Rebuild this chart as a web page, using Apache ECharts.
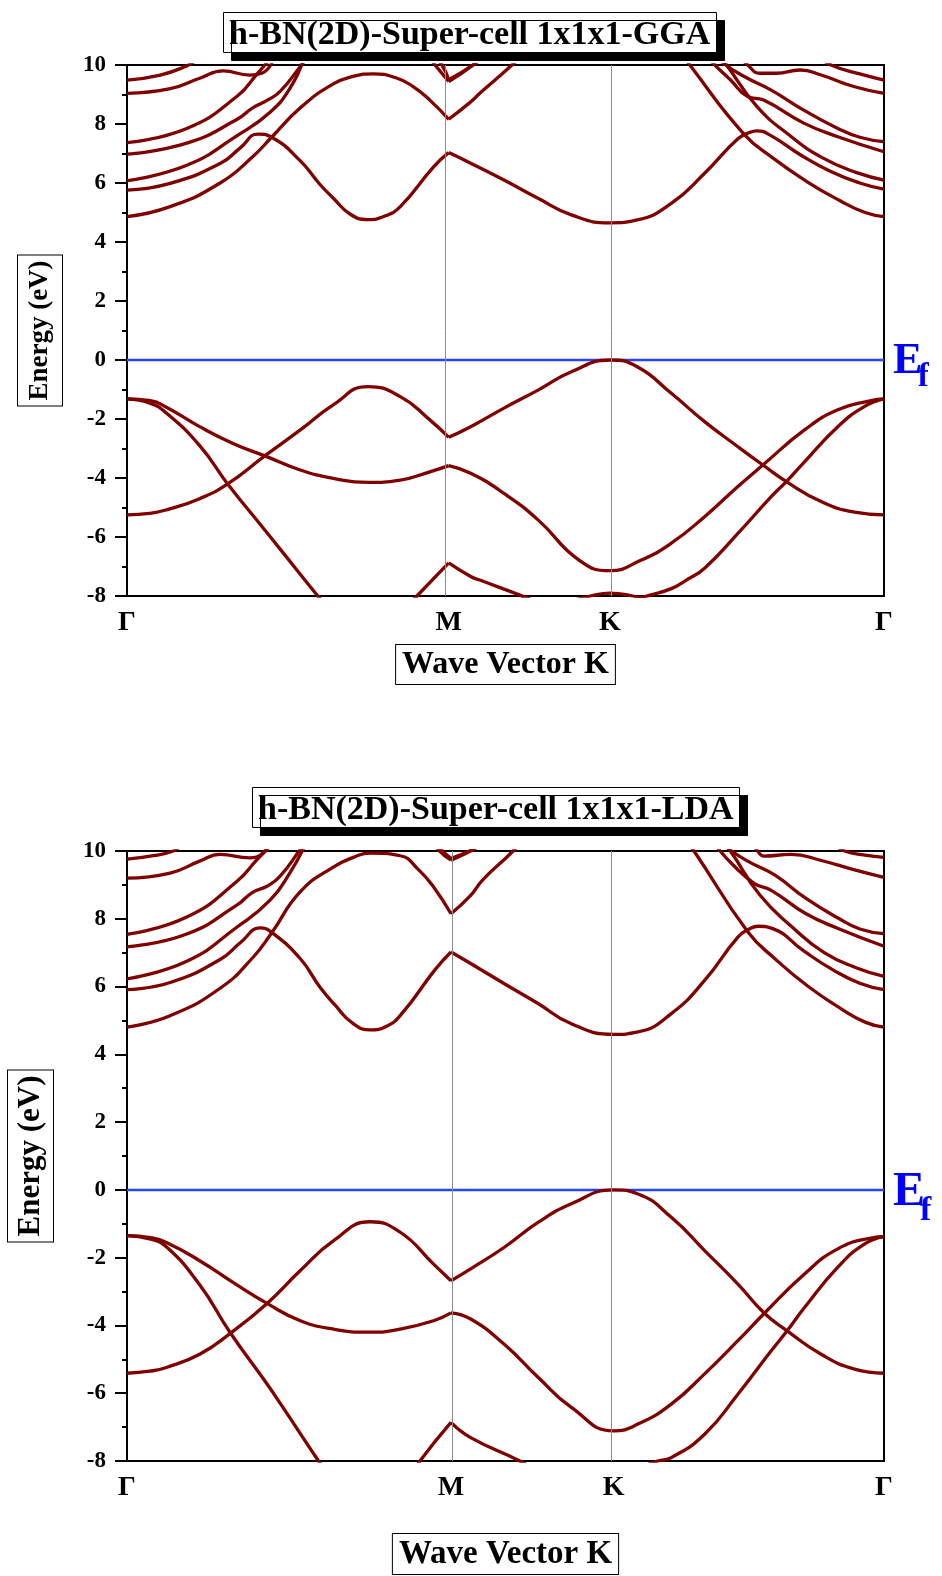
<!DOCTYPE html>
<html>
<head>
<meta charset="utf-8">
<script src="https://cdn.jsdelivr.net/npm/echarts@6.0.0/dist/echarts.min.js"></script>
<style>
html,body{margin:0;padding:0;background:#fff;}
#chart{width:942px;height:1576px;}
</style>
</head>
<body>
<div id="chart"></div>
<script>
// ---------- tick labels / symmetry points ----------
const kLabels = ['Γ', 'M', 'K', 'Γ'];
const kPosGGA = [0, 0.425, 0.638, 1];
const kPosLDA = [0, 0.428, 0.643, 1];
const titles = ['h-BN(2D)-Super-cell 1x1x1-GGA', 'h-BN(2D)-Super-cell 1x1x1-LDA'];
const yName = 'Energy (eV)';
const xName = 'Wave Vector K';
const fermiLevel = 0;

// ---------- GGA bands [k, E(eV)] ----------
const gga_v1_gm = [[0,-5.25],[0.030,-5.2],[0.052,-5.08],[0.096,-4.7],[0.133,-4.2],[0.182,-3.25],[0.229,-2.37],[0.272,-1.53],[0.318,-0.9],[0.361,-1.24],[0.400,-2.03],[0.425,-2.62]];
const gga_v1_mkg = [[0.425,-2.62],[0.454,-2.26],[0.498,-1.63],[0.543,-1.02],[0.587,-0.4],[0.638,0],[0.674,-0.23],[0.719,-1.13],[0.763,-2.09],[0.807,-2.94],[0.840,-3.56],[0.871,-4.12],[0.917,-4.8],[0.961,-5.16],[1,-5.25]];
const gga_v2_gm = [[0,-1.32],[0.031,-1.38],[0.052,-1.6],[0.096,-2.26],[0.140,-2.83],[0.182,-3.25],[0.229,-3.73],[0.272,-4.01],[0.318,-4.15],[0.361,-4.07],[0.400,-3.79],[0.425,-3.58]];
const gga_v2_mkg = [[0.425,-3.58],[0.454,-3.84],[0.498,-4.52],[0.543,-5.42],[0.598,-6.8],[0.638,-7.14],[0.678,-6.8],[0.719,-6.21],[0.763,-5.31],[0.807,-4.29],[0.840,-3.56],[0.895,-2.37],[0.939,-1.69],[0.983,-1.38],[1,-1.32]];
const gga_v3_gm = [[0,-1.32],[0.031,-1.47],[0.052,-1.8],[0.096,-2.9],[0.133,-4.2],[0.182,-5.76],[0.206,-6.53],[0.252,-8.0],[0.275,-8.7]];
const gga_v4_gm = [[0.36,-8.6],[0.383,-8.0],[0.425,-6.88]];
const gga_v4_mk = [[0.425,-6.88],[0.454,-7.34],[0.466,-7.46],[0.519,-7.97],[0.55,-8.3]];
const gga_v5_k = [[0.59,-8.15],[0.612,-8.0],[0.638,-7.9],[0.668,-8.0],[0.69,-8.15]];
const gga_v6_kg = [[0.66,-8.2],[0.691,-7.97],[0.719,-7.75],[0.739,-7.46],[0.763,-7.06],[0.807,-5.88],[0.851,-4.63],[0.871,-4.12],[0.895,-3.45],[0.939,-2.26],[0.974,-1.58],[1,-1.32]];

const gga_c1_gm = [[0,4.86],[0.057,5.2],[0.123,6.0],[0.166,6.89],[0.191,7.55],[0.229,8.55],[0.272,9.35],[0.300,9.62],[0.325,9.70],[0.356,9.56],[0.378,9.27],[0.400,8.81],[0.425,8.16]];
const gga_c1_mk = [[0.425,8.16],[0.454,8.75],[0.466,9.04],[0.506,9.94],[0.52,10.3]];
const gga_c1_kg = [[0.73,10.5],[0.745,9.95],[0.815,7.66],[0.853,6.85],[0.898,6.05],[0.942,5.4],[0.975,5.0],[1,4.86]];
const gga_c2_gm = [[0,5.76],[0.057,5.99],[0.123,6.66],[0.150,7.2],[0.173,7.66],[0.191,7.55],[0.229,6.75],[0.255,5.95],[0.272,5.5],[0.295,4.94],[0.318,4.76],[0.340,4.87],[0.361,5.2],[0.405,6.55],[0.425,7.03]];
const gga_c2_mkg = [[0.425,7.03],[0.454,6.67],[0.498,6.1],[0.543,5.48],[0.587,4.92],[0.638,4.65],[0.674,4.75],[0.719,5.31],[0.763,6.33],[0.807,7.5],[0.823,7.72],[0.832,7.77],[0.849,7.63],[0.890,6.95],[0.929,6.4],[0.968,6.0],[1,5.79]];
const gga_c3_gm = [[0,6.08],[0.079,6.6],[0.145,7.6],[0.189,8.4],[0.215,9.2],[0.232,10.1]];
const gga_c4_gm = [[0,6.98],[0.079,7.35],[0.145,8.15],[0.166,8.55],[0.185,8.8],[0.202,9.1],[0.229,9.95],[0.236,10.2]];
const gga_c5_gm = [[0,7.37],[0.079,7.85],[0.145,8.93],[0.172,9.7],[0.182,10.0],[0.19,10.25]];
const gga_c6_gm = [[0,9.04],[0.057,9.2],[0.096,9.55],[0.127,9.8],[0.162,9.66],[0.178,9.72],[0.192,10.1]];
const gga_c7_gm = [[0,9.49],[0.044,9.66],[0.079,9.97],[0.09,10.15]];
const gga_c8_gm = [[0.395,10.4],[0.407,10.0],[0.425,9.44]];
const gga_c8_mk = [[0.425,9.44],[0.457,10.0],[0.467,10.3]];
const gga_c9_gm = [[0.405,10.3],[0.416,10.0],[0.425,9.5]];
const gga_c9_mk = [[0.425,9.5],[0.46,10.05],[0.47,10.3]];
const gga_c3_kg = [[0.78,10.4],[0.792,10.0],[0.832,8.6],[0.876,7.6],[0.919,6.85],[0.964,6.35],[1,6.1]];
const gga_c4_kg = [[0.765,10.4],[0.773,10.1],[0.797,9.5],[0.820,8.93],[0.841,8.81],[0.894,8.03],[0.939,7.57],[1,7.06]];
const gga_c5_kg = [[0.778,10.4],[0.786,10.1],[0.816,9.6],[0.851,9.15],[0.894,8.47],[0.939,7.85],[0.968,7.55],[1,7.4]];
const gga_c6_kg = [[0.81,10.3],[0.82,10.0],[0.836,9.72],[0.858,9.72],[0.889,9.83],[0.917,9.66],[0.960,9.27],[1,9.04]];
const gga_c7_kg = [[0.915,10.3],[0.93,10.0],[0.968,9.7],[1,9.49]];

// ---------- LDA bands [k, E(eV)] ----------
const lda_v1_gm = [[0,-5.41],[0.030,-5.35],[0.052,-5.24],[0.096,-4.85],[0.136,-4.24],[0.185,-3.35],[0.229,-2.38],[0.273,-1.5],[0.321,-0.94],[0.361,-1.25],[0.405,-2.19],[0.428,-2.68]];
const lda_v1_mkg = [[0.428,-2.68],[0.454,-2.33],[0.498,-1.7],[0.543,-0.96],[0.587,-0.41],[0.643,0],[0.675,-0.12],[0.719,-0.81],[0.763,-1.79],[0.807,-2.78],[0.842,-3.64],[0.872,-4.16],[0.917,-4.85],[0.961,-5.29],[1,-5.41]];
const lda_v2_gm = [[0,-1.35],[0.031,-1.41],[0.052,-1.55],[0.096,-2.09],[0.140,-2.73],[0.185,-3.35],[0.229,-3.86],[0.273,-4.11],[0.321,-4.2],[0.361,-4.11],[0.405,-3.86],[0.428,-3.63]];
const lda_v2_mkg = [[0.428,-3.63],[0.454,-3.81],[0.498,-4.55],[0.543,-5.53],[0.587,-6.42],[0.643,-7.11],[0.675,-6.91],[0.719,-6.32],[0.763,-5.43],[0.807,-4.45],[0.842,-3.64],[0.895,-2.48],[0.939,-1.74],[0.983,-1.42],[1,-1.38]];
const lda_v3_gm = [[0,-1.35],[0.030,-1.45],[0.052,-1.68],[0.096,-2.8],[0.136,-4.2],[0.185,-5.73],[0.206,-6.42],[0.253,-8.0],[0.275,-8.7]];
const lda_v4_gm = [[0.36,-8.9],[0.387,-8.0],[0.428,-6.86]];
const lda_v4_mk = [[0.428,-6.86],[0.454,-7.31],[0.519,-8.0],[0.55,-8.4]];
const lda_v6_kg = [[0.66,-8.35],[0.701,-8.0],[0.719,-7.9],[0.763,-7.21],[0.807,-6.03],[0.851,-4.75],[0.872,-4.16],[0.895,-3.47],[0.939,-2.28],[0.974,-1.6],[1,-1.38]];

const lda_c1_gm = [[0,4.8],[0.057,5.14],[0.123,5.95],[0.166,6.85],[0.191,7.58],[0.229,8.8],[0.272,9.52],[0.300,9.82],[0.321,9.94],[0.361,9.86],[0.385,9.45],[0.405,8.94],[0.428,8.15]];
const lda_c1_mk = [[0.428,8.15],[0.454,8.69],[0.47,9.15],[0.51,10.0],[0.52,10.3]];
const lda_c1_kg = [[0.735,10.4],[0.749,10.0],[0.820,7.62],[0.857,6.8],[0.900,6.0],[0.943,5.35],[0.975,4.95],[1,4.8]];
const lda_c2_gm = [[0,5.91],[0.057,6.12],[0.123,6.8],[0.150,7.3],[0.176,7.73],[0.191,7.6],[0.229,6.82],[0.255,5.98],[0.275,5.45],[0.298,4.92],[0.321,4.72],[0.343,4.83],[0.363,5.2],[0.407,6.5],[0.428,7.02]];
const lda_c2_mkg = [[0.428,7.02],[0.454,6.68],[0.498,6.09],[0.543,5.5],[0.587,4.9],[0.643,4.59],[0.675,4.66],[0.719,5.2],[0.763,6.18],[0.807,7.46],[0.822,7.7],[0.834,7.78],[0.853,7.71],[0.894,7.05],[0.932,6.5],[0.968,6.1],[1,5.91]];
const lda_c3_gm = [[0,6.23],[0.079,6.75],[0.145,7.75],[0.189,8.55],[0.215,9.35],[0.236,10.2]];
const lda_c4_gm = [[0,7.17],[0.079,7.55],[0.145,8.4],[0.166,8.78],[0.185,8.96],[0.202,9.25],[0.229,10.05],[0.235,10.25]];
const lda_c5_gm = [[0,7.54],[0.079,8.05],[0.145,9.1],[0.172,9.75],[0.185,10.05],[0.192,10.25]];
const lda_c6_gm = [[0,9.2],[0.057,9.35],[0.096,9.7],[0.123,9.9],[0.162,9.8],[0.176,9.88],[0.186,10.15]];
const lda_c7_gm = [[0,9.76],[0.035,9.86],[0.061,10.0],[0.07,10.15]];
const lda_c8_gm = [[0.400,10.4],[0.413,10.0],[0.428,9.73]];
const lda_c8_mk = [[0.428,9.73],[0.454,10.0],[0.465,10.15]];
const lda_c9_gm = [[0.405,10.3],[0.416,10.02],[0.428,9.78]];
const lda_c9_mk = [[0.428,9.78],[0.457,10.05],[0.467,10.2]];
const lda_c3_kg = [[0.785,10.3],[0.797,10.0],[0.836,8.7],[0.879,7.75],[0.921,7.0],[0.964,6.55],[1,6.3]];
const lda_c4_kg = [[0.77,10.4],[0.778,10.15],[0.800,9.6],[0.829,9.04],[0.851,8.84],[0.897,8.15],[0.941,7.7],[1,7.19]];
const lda_c5_kg = [[0.782,10.4],[0.79,10.15],[0.82,9.7],[0.855,9.3],[0.897,8.6],[0.941,8.0],[0.968,7.7],[1,7.56]];
const lda_c6_kg = [[0.826,10.3],[0.833,10.0],[0.842,9.85],[0.877,9.9],[0.917,9.72],[0.96,9.45],[1,9.22]];
const lda_c7_kg = [[0.935,10.2],[0.948,10.0],[0.975,9.88],[1,9.81]];

const GGA_BANDS = [gga_v1_gm,gga_v1_mkg,gga_v2_gm,gga_v2_mkg,gga_v3_gm,gga_v4_gm,gga_v4_mk,gga_v5_k,gga_v6_kg,
  gga_c1_gm,gga_c1_mk,gga_c1_kg,gga_c2_gm,gga_c2_mkg,gga_c3_gm,gga_c4_gm,gga_c5_gm,gga_c6_gm,gga_c7_gm,
  gga_c8_gm,gga_c8_mk,gga_c9_gm,gga_c9_mk,gga_c3_kg,gga_c4_kg,gga_c5_kg,gga_c6_kg,gga_c7_kg];
const LDA_BANDS = [lda_v1_gm,lda_v1_mkg,lda_v2_gm,lda_v2_mkg,lda_v3_gm,lda_v4_gm,lda_v4_mk,lda_v6_kg,
  lda_c1_gm,lda_c1_mk,lda_c1_kg,lda_c2_gm,lda_c2_mkg,lda_c3_gm,lda_c4_gm,lda_c5_gm,lda_c6_gm,lda_c7_gm,
  lda_c8_gm,lda_c8_mk,lda_c9_gm,lda_c9_mk,lda_c3_kg,lda_c4_kg,lda_c5_kg,lda_c6_kg,lda_c7_kg];

// ---------- styling ----------
const FONT = "'Liberation Serif','Times New Roman',serif";
const BAND_COLOR = '#800000';
const FERMI_COLOR = '#2446ff';

const chart = echarts.init(document.getElementById('chart'), null, {renderer: 'canvas'});

function xAxisFor(gi, kPos, labelMargin, nameGap, nameSize) {
  return {
    gridIndex: gi, type: 'value', min: 0, max: 1,
    axisLine: {show: true, onZero: false, lineStyle: {color: '#000', width: 2}},
    axisTick: {show: false},
    splitLine: {show: false},
    axisLabel: {
      customValues: kPos,
      formatter: function (v) {
        for (let i = 0; i < kPos.length; i++) if (Math.abs(v - kPos[i]) < 1e-6) return kLabels[i];
        return '';
      },
      fontFamily: FONT, fontWeight: 'bold', fontSize: 28, color: '#000', margin: labelMargin
    },
    name: xName, nameLocation: 'middle', nameGap: nameGap,
    nameTextStyle: {fontFamily: FONT, fontWeight: 'bold', fontSize: nameSize, color: '#000',
      borderColor: '#000', borderWidth: 1, padding: [3, 6, 3, 6], backgroundColor: '#fff', lineHeight: nameSize + 1}
  };
}
function yAxisFor(gi, nameGap, nameSize, pad) {
  return {
    gridIndex: gi, type: 'value', min: -8, max: 10, interval: 2,
    axisLine: {show: true, lineStyle: {color: '#000', width: 2}},
    axisTick: {show: true, length: 12, lineStyle: {color: '#000', width: 2}},
    minorTick: {show: true, splitNumber: 2, length: 5, lineStyle: {color: '#000', width: 2}},
    splitLine: {show: false},
    axisLabel: {fontFamily: FONT, fontWeight: 'bold', fontSize: 23, color: '#000', margin: 21},
    name: yName, nameLocation: 'middle', nameRotate: 90, nameGap: nameGap,
    nameTextStyle: {fontFamily: FONT, fontWeight: 'bold', fontSize: nameSize, color: '#000',
      borderColor: '#000', borderWidth: 1, padding: pad, backgroundColor: '#fff', lineHeight: nameSize + 1}
  };
}

const series = [];
function addChart(gi, bands, kPos) {
  series.push({
    type: 'line', xAxisIndex: gi, yAxisIndex: gi, data: [], silent: true, z: 1,
    markLine: {silent: true, symbol: ['none', 'none'], label: {show: false},
      lineStyle: {color: '#8c8c8c', width: 1, type: 'solid'},
      data: [{xAxis: kPos[1]}, {xAxis: kPos[2]}]}
  });
  series.push({
    type: 'line', xAxisIndex: gi, yAxisIndex: gi, data: [[0, fermiLevel], [1, fermiLevel]],
    showSymbol: false, symbol: 'none', silent: true, z: 2,
    lineStyle: {color: FERMI_COLOR, width: 2.5}
  });
  bands.forEach(function (b) {
    series.push({
      type: 'line', xAxisIndex: gi, yAxisIndex: gi, data: b, smooth: 0.5,
      showSymbol: false, symbol: 'none', clip: true, silent: true, z: 3,
      lineStyle: {color: BAND_COLOR, width: 3.3}
    });
  });
}
addChart(0, GGA_BANDS, kPosGGA);
addChart(1, LDA_BANDS, kPosLDA);

function titleFor(text, left, top) {
  return {
    text: text, left: left, top: top, padding: [6, 6, 1, 6],
    backgroundColor: '#fff', borderColor: '#000', borderWidth: 1,
    shadowColor: '#000', shadowBlur: 0, shadowOffsetX: 8, shadowOffsetY: 8,
    textStyle: {fontFamily: FONT, fontWeight: 'bold', fontSize: 34, color: '#000'}
  };
}

function efLabel(x, yE, yF, sE, sF) {
  return [
    {type: 'text', left: x, top: yE - sE / 2, z: 10, style: {text: 'E', fill: '#0000ff', font: 'bold ' + sE + 'px ' + FONT}},
    {type: 'text', left: x + sE * 0.56, top: yF - sF / 2, z: 10, style: {text: 'f', fill: '#0000ff', font: 'bold ' + sF + 'px ' + FONT}}
  ];
}

chart.setOption({
  animation: false,
  backgroundColor: '#fff',
  title: [titleFor(titles[0], 223, 12), titleFor(titles[1], 252, 787)],
  grid: [
    {left: 127, right: 58, top: 65, height: 531, show: true, borderColor: '#000', borderWidth: 2, backgroundColor: 'transparent', containLabel: false, outerBoundsMode: 'none'},
    {left: 127, right: 58, top: 851, height: 610, show: true, borderColor: '#000', borderWidth: 2, backgroundColor: 'transparent', containLabel: false, outerBoundsMode: 'none'}
  ],
  xAxis: [xAxisFor(0, kPosGGA, 13, 49, 32), xAxisFor(1, kPosLDA, 13, 73, 33)],
  yAxis: [yAxisFor(0, 65, 27, [8, 5, 8, 5]), yAxisFor(1, 74, 31, [7, 5, 6, 5])],
  series: series,
  graphic: efLabel(893, 362, 377, 44, 33).concat(efLabel(893, 1193, 1211, 48, 34))
});
</script>
</body>
</html>
